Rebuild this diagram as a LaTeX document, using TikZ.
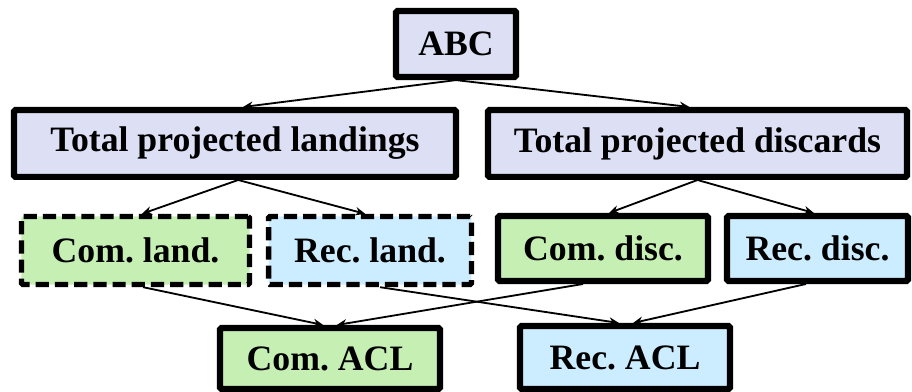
\documentclass[tikz,border=0pt]{standalone}
\usepackage{fontspec}
\setmainfont{Liberation Serif}[BoldFont={Liberation Serif Bold}]
\usetikzlibrary{arrows.meta}
\definecolor{boxlav}{RGB}{221,223,245}
\definecolor{boxgreen}{RGB}{198,239,180}
\definecolor{boxblue}{RGB}{204,236,255}
\frenchspacing
\begin{document}
\begin{tikzpicture}[x=0.025cm, y=-0.025cm,
		box/.style={draw=black, line width=4.4pt, rounded corners=1pt, inner sep=0pt, font=\rmfamily\fontsize{25.4}{30}\selectfont\bfseries},
		dashbox/.style={box, line width=3.8pt, dash pattern=on 0.33cm off 0.15cm},
		link/.style={draw=black, line width=1.3pt, -{Stealth[length=7pt, width=6pt]}}]
		\useasboundingbox (0,0) rectangle (912,392);
		\node[box, fill=boxlav, minimum width=3.0cm, minimum height=1.65cm] (abc) at (456,44) {ABC};
		\node[box, fill=boxlav, minimum width=11.05cm, minimum height=1.67cm] (totland) at (235,143.5) {Total projected landings};
		\node[box, fill=boxlav, minimum width=10.47cm, minimum height=1.67cm] (totdisc) at (697.5,143.5) {Total projected discards};
		\node[dashbox, fill=boxgreen, minimum width=5.7cm, minimum height=1.7cm] (comland) at (135.5,250.5) {Com. land.};
		\node[dashbox, fill=boxblue, minimum width=5.07cm, minimum height=1.7cm] (recland) at (370,250.5) {Rec. land.};
		\node[box, fill=boxgreen, minimum width=5.25cm, minimum height=1.62cm] (comdisc) at (603,248.5) {Com. disc.};
		\node[box, fill=boxblue, minimum width=4.52cm, minimum height=1.62cm] (recdisc) at (817.5,248.5) {Rec. disc.};
		\node[box, fill=boxgreen, minimum width=5.5cm, minimum height=1.52cm] (comacl) at (330,358.5) {Com. ACL};
		\node[box, fill=boxblue, minimum width=5.25cm, minimum height=1.57cm] (recacl) at (625,357.5) {Rec. ACL};
		\draw[link] (abc.south) -- ([xshift=0.2cm]totland.north);
		\draw[link] (abc.south) -- ([xshift=-0.2cm]totdisc.north);
		\draw[link] ([xshift=0.08cm]totland.south) -- ([xshift=0.16cm]comland.north);
		\draw[link] ([xshift=0.08cm]totland.south) -- ([xshift=-0.12cm]recland.north);
		\draw[link] (totdisc.south) -- ([xshift=0.15cm]comdisc.north);
		\draw[link] (totdisc.south) -- ([xshift=-0.09cm]recdisc.north);
		\draw[link] ([xshift=0.19cm]comland.south) -- ([xshift=-0.17cm]comacl.north);
		\draw[link] ([xshift=-0.5cm]comdisc.south) -- ([xshift=0.17cm]comacl.north);
		\draw[link] ([xshift=0.25cm]recland.south) -- ([xshift=-0.15cm]recacl.north);
		\draw[link] ([xshift=-0.29cm]recdisc.south) -- ([xshift=0.2cm]recacl.north);
	\end{tikzpicture}
\end{document}
